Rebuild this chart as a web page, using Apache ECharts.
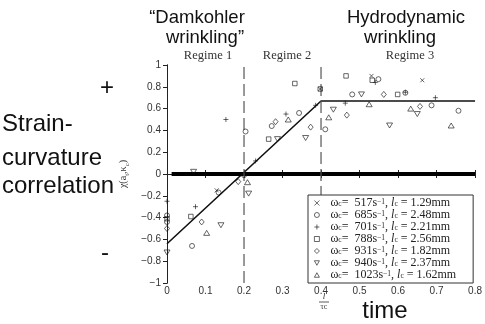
<!DOCTYPE html>
<html>
<head>
<meta charset="utf-8">
<script src="https://cdn.jsdelivr.net/npm/echarts@6/dist/echarts.min.js"></script>
<style>
  html, body { margin: 0; padding: 0; background: #fff; }
  #chart { width: 485px; height: 324px; }
</style>
</head>
<body>
<div id="chart"></div>
<script>
// strain-curvature correlation vs normalised time, one list per flame
var omegas = ['517', '685', '701', '788', '931', '940', '1023']
var lengths = ['1.29', '2.48', '2.21', '2.56', '1.82', '2.37', '1.62']

var w517 = [[0.129, -0.15], [0.398, 0.78], [0.531, 0.90], [0.663, 0.86]]
var w685 = [[0, -0.38], [0, -0.44], [0.065, -0.66], [0.134, -0.17], [0.2, -0.01], [0.204, 0.39],
  [0.272, 0.44], [0.343, 0.56], [0.411, 0.41], [0.481, 0.73], [0.549, 0.87], [0.619, 0.745],
  [0.687, 0.63], [0.757, 0.58]]
var w701 = [[0, -0.25], [0.074, -0.30], [0.153, 0.50], [0.23, 0.12], [0.309, 0.55], [0.386, 0.63],
  [0.463, 0.65], [0.541, 0.84], [0.619, 0.75], [0.697, 0.70]]
var w788 = [[0, -0.41], [0.062, -0.39], [0.264, 0.32], [0.332, 0.83], [0.398, 0.78], [0.465, 0.90],
  [0.533, 0.86], [0.599, 0.73]]
var w931 = [[0, -0.50], [0.09, -0.44], [0.185, -0.07], [0.282, 0.48], [0.373, 0.43], [0.467, 0.54],
  [0.563, 0.73], [0.657, 0.62]]
var w940 = [[0, -0.72], [0.069, 0.02], [0.14, -0.47], [0.212, -0.18], [0.287, 0.32], [0.36, 0.33],
  [0.432, 0.59], [0.505, 0.73], [0.578, 0.445], [0.65, 0.55]]
var w1023 = [[0.103, -0.54], [0.209, -0.075], [0.315, 0.50], [0.42, 0.52], [0.525, 0.64],
  [0.633, 0.60], [0.738, 0.445]]

// piecewise fit, zero line and regime boundaries
var fitLine = [[0, -0.64], [0.4, 0.67], [0.8, 0.67]]
var zeroLine = [[0.012, 0], [0.8, 0]]
var regimeBounds = [0.2, 0.4]

var xTicks = { min: 0, max: 0.8, step: 0.1 }
var yTicks = { min: -1, max: 1, step: 0.2 }

var allData = [w517, w685, w701, w788, w931, w940, w1023]
var symbols = [
  'path://M0,0L10,10M10,0L0,10',
  'circle',
  'path://M5,0L5,10M0,5L10,5',
  'rect',
  'diamond',
  'path://M0,0L10,0L5,9Z',
  'path://M5,0L10,9L0,9Z'
]
var sizes = [4, 5, 5, 4.5, [5, 6], [6, 5], [6, 5]]

var chart = echarts.init(document.getElementById('chart'))

var series = allData.map(function (d, i) {
  return {
    name: omegas[i],
    type: 'scatter',
    data: d,
    symbol: symbols[i],
    symbolSize: sizes[i],
    itemStyle: { color: 'rgba(0,0,0,0)', borderColor: '#111', borderWidth: 0.8 },
    z: 5
  }
})

series.push({
  type: 'line', data: fitLine, symbol: 'none', silent: true,
  lineStyle: { color: '#111', width: 1.6 }
})
series.push({
  type: 'line', data: zeroLine, symbol: 'none', silent: true,
  lineStyle: { color: '#000', width: 4 }
})
regimeBounds.forEach(function (b) {
  series.push({
    type: 'line', data: [[b, yTicks.min], [b, yTicks.max]], symbol: 'none', silent: true,
    lineStyle: { color: '#555', width: 1.2, type: [12, 5] }
  })
})

function minus(v) {
  return v < 0 ? '\u2212' + String(Math.abs(v)) : String(v)
}

var option = {
  animation: false,
  grid: { left: 167, right: 5, top: 65, bottom: 41 },
  xAxis: [
    {
      type: 'value', min: xTicks.min, max: xTicks.max, interval: xTicks.step,
      axisLine: { lineStyle: { color: '#222' } },
      axisTick: { inside: true, length: 4, lineStyle: { color: '#222' } },
      axisLabel: { fontFamily: 'Liberation Sans', fontSize: 10, color: '#333', margin: 3 },
      splitLine: { show: false }
    },
    {
      type: 'value', position: 'top', min: xTicks.min, max: xTicks.max, interval: xTicks.step,
      axisLine: { lineStyle: { color: '#222' } },
      axisTick: { inside: true, length: 4, lineStyle: { color: '#222' } },
      axisLabel: { show: false }, splitLine: { show: false }
    }
  ],
  yAxis: [
    {
      type: 'value', min: yTicks.min, max: yTicks.max, interval: yTicks.step,
      axisLine: { show: true, lineStyle: { color: '#222' } },
      axisTick: { show: true, length: 3, lineStyle: { color: '#222' } },
      axisLabel: { fontFamily: 'Liberation Sans', fontSize: 10, color: '#333', margin: 6, formatter: minus },
      splitLine: { show: false },
      name: '{n|\u03c7(a}{s|t}{n|,\u03ba}{s|c}{n|)}',
      nameLocation: 'middle', nameGap: 32, nameRotate: 90,
      nameTextStyle: {
        rich: {
          n: { fontFamily: 'Liberation Serif', fontSize: 10, color: '#333', lineHeight: 13, verticalAlign: 'middle' },
          s: { fontFamily: 'Liberation Serif', fontSize: 7, color: '#333', lineHeight: 13, verticalAlign: 'bottom' }
        }
      }
    },
    {
      type: 'value', position: 'right', min: yTicks.min, max: yTicks.max, interval: yTicks.step,
      axisLine: { show: true, lineStyle: { color: '#222' } },
      axisTick: { show: true, inside: true, length: 4, lineStyle: { color: '#222' } },
      axisLabel: { show: false }, splitLine: { show: false }
    }
  ],
  legend: {
    orient: 'vertical', left: 308, top: 195,
    data: omegas,
    backgroundColor: '#fff', borderColor: '#333', borderWidth: 1,
    padding: [2, 17, 2, 6],
    itemWidth: 5, itemHeight: 5, itemGap: 0,
    selectedMode: false,
    itemStyle: { borderWidth: 0.8 },
    formatter: function (name) {
      var i = omegas.indexOf(name)
      return '{t|\u03c9}{s|c}{t|=  ' + omegas[i] + 's}{p|\u22121}{t|, }{i|l}{s|c}{t| = ' + lengths[i] + 'mm}'
    },
    textStyle: {
      padding: [0, 0, 0, 6],
      lineHeight: 10,
      rich: {
        t: { fontFamily: 'Liberation Serif', fontSize: 12, color: '#222', lineHeight: 10, verticalAlign: 'middle' },
        i: { fontFamily: 'Liberation Serif', fontStyle: 'italic', fontSize: 12, color: '#222', lineHeight: 10, verticalAlign: 'middle' },
        s: { fontFamily: 'Liberation Serif', fontSize: 7.5, color: '#222', lineHeight: 10, verticalAlign: 'bottom' },
        p: { fontFamily: 'Liberation Serif', fontSize: 7.5, color: '#222', lineHeight: 10, verticalAlign: 'top' }
      }
    }
  },
  graphic: [
    { type: 'text', x: 197, y: 18, style: { text: '\u201cDamkohler', fontFamily: 'Liberation Sans', fontSize: 18.5, fill: '#111', textAlign: 'center', textVerticalAlign: 'middle' } },
    { type: 'text', x: 205, y: 38, style: { text: 'wrinkling\u201d', fontFamily: 'Liberation Sans', fontSize: 18.5, fill: '#111', textAlign: 'center', textVerticalAlign: 'middle' } },
    { type: 'text', x: 406, y: 18, style: { text: 'Hydrodynamic', fontFamily: 'Liberation Sans', fontSize: 18.5, fill: '#111', textAlign: 'center', textVerticalAlign: 'middle' } },
    { type: 'text', x: 400, y: 38, style: { text: 'wrinkling', fontFamily: 'Liberation Sans', fontSize: 18.5, fill: '#111', textAlign: 'center', textVerticalAlign: 'middle' } },
    { type: 'text', x: 208, y: 56, style: { text: 'Regime 1', fontFamily: 'Liberation Serif', fontSize: 12.5, fill: '#333', textAlign: 'center', textVerticalAlign: 'middle' } },
    { type: 'text', x: 287, y: 56, style: { text: 'Regime 2', fontFamily: 'Liberation Serif', fontSize: 12.5, fill: '#333', textAlign: 'center', textVerticalAlign: 'middle' } },
    { type: 'text', x: 410, y: 56, style: { text: 'Regime 3', fontFamily: 'Liberation Serif', fontSize: 12.5, fill: '#333', textAlign: 'center', textVerticalAlign: 'middle' } },
    { type: 'text', x: 107, y: 88, style: { text: '+', fontFamily: 'Liberation Sans', fontSize: 24, fill: '#111', textAlign: 'center', textVerticalAlign: 'middle' } },
    { type: 'text', x: 2, y: 124, style: { text: 'Strain-', fontFamily: 'Liberation Sans', fontSize: 24, fill: '#111', textAlign: 'left', textVerticalAlign: 'middle' } },
    { type: 'text', x: 2, y: 158, style: { text: 'curvature', fontFamily: 'Liberation Sans', fontSize: 24, fill: '#111', textAlign: 'left', textVerticalAlign: 'middle' } },
    { type: 'text', x: 2, y: 186, style: { text: 'correlation', fontFamily: 'Liberation Sans', fontSize: 24, fill: '#111', textAlign: 'left', textVerticalAlign: 'middle' } },
    { type: 'text', x: 105, y: 253, style: { text: '-', fontFamily: 'Liberation Sans', fontSize: 24, fill: '#111', textAlign: 'center', textVerticalAlign: 'middle' } },
    { type: 'text', x: 385, y: 311, style: { text: 'time', fontFamily: 'Liberation Sans', fontSize: 24, fill: '#111', textAlign: 'center', textVerticalAlign: 'middle' } },
    { type: 'text', x: 324, y: 297, style: { text: 'l', fontFamily: 'Liberation Serif', fontStyle: 'italic', fontSize: 9, fill: '#333', textAlign: 'center', textVerticalAlign: 'middle' } },
    { type: 'line', shape: { x1: 319, y1: 302, x2: 329, y2: 302 }, style: { stroke: '#333', lineWidth: 0.8 } },
    { type: 'text', x: 324, y: 307, style: { text: '\u03c4c', fontFamily: 'Liberation Serif', fontSize: 8, fill: '#333', textAlign: 'center', textVerticalAlign: 'middle' } }
  ],
  series: series
}

chart.setOption(option)
</script>
</body>
</html>
